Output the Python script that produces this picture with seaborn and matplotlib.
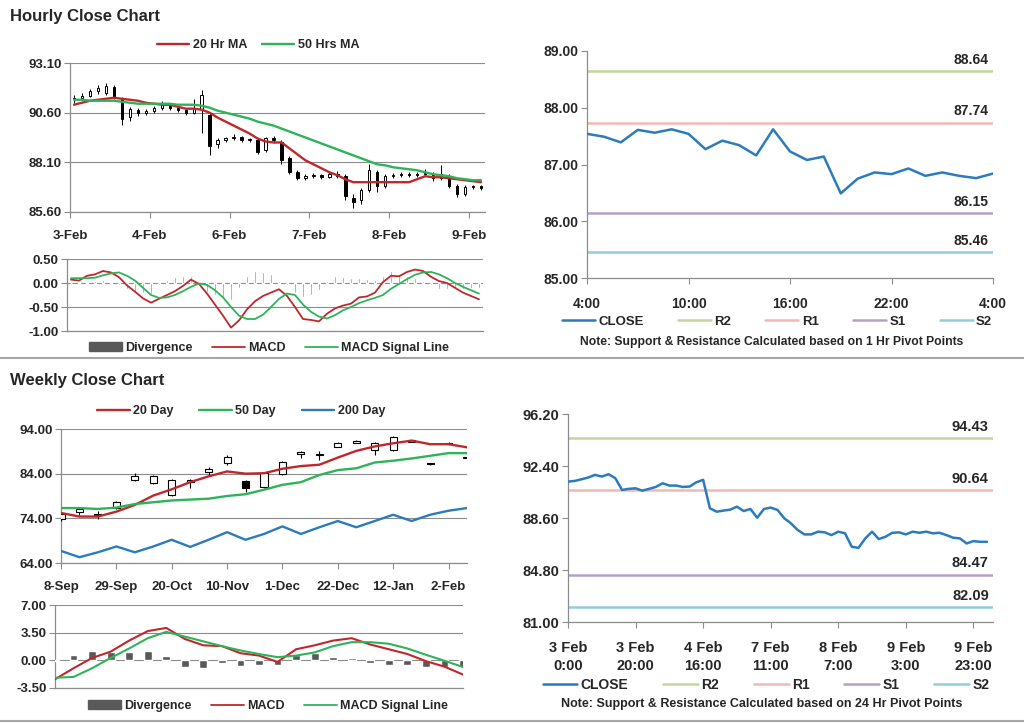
import matplotlib
matplotlib.use("Agg")
import matplotlib.pyplot as plt
from matplotlib.lines import Line2D
from matplotlib.patches import Patch
import numpy as np
import seaborn as sns

# ---- hourly candles (3-Feb .. 9-Feb), 10 bars per axis label step ----
hr_open = [91.30, 91.35, 91.45, 91.70, 91.60, 91.90, 91.30, 90.40, 90.75, 90.60,
           90.70, 90.85, 90.95, 90.85, 90.75, 90.60, 90.80, 90.50, 89.00, 89.20,
           89.30, 89.40, 89.20, 89.20, 88.70, 89.30, 89.10, 88.30, 87.60, 87.30,
           87.40, 87.45, 87.35, 87.50, 87.40, 86.30, 86.20, 86.70, 87.60, 86.90,
           87.40, 87.45, 87.50, 87.45, 87.50, 87.50, 87.30, 87.40, 86.90, 86.50,
           86.85, 86.90]
hr_close = [91.35, 91.45, 91.70, 91.85, 91.95, 91.40, 90.30, 90.80, 90.60, 90.70,
            90.85, 91.00, 90.85, 90.75, 90.60, 90.85, 91.50, 88.90, 89.20, 89.30,
            89.40, 89.20, 89.25, 88.60, 89.30, 89.20, 88.20, 87.60, 87.30, 87.40,
            87.45, 87.35, 87.50, 87.40, 86.40, 86.10, 86.70, 87.70, 86.90, 87.40,
            87.45, 87.50, 87.45, 87.50, 87.55, 87.30, 87.50, 86.90, 86.50, 86.85,
            86.90, 86.80]
hr_high = [91.50, 91.60, 91.80, 92.00, 92.10, 92.00, 91.40, 90.90, 90.85, 90.80,
           90.95, 91.20, 91.05, 90.90, 90.80, 91.30, 91.75, 90.60, 89.30, 89.40,
           89.55, 89.45, 89.35, 89.30, 89.40, 89.45, 89.20, 88.40, 87.70, 87.50,
           87.55, 87.50, 87.60, 87.65, 87.50, 86.50, 86.80, 88.00, 87.70, 87.50,
           87.55, 87.60, 87.60, 87.60, 87.75, 87.60, 87.95, 87.50, 87.00, 86.95,
           86.95, 86.95]
hr_low = [91.10, 91.25, 91.40, 91.55, 91.50, 91.30, 90.00, 90.20, 90.45, 90.50,
          90.60, 90.75, 90.75, 90.65, 90.50, 90.55, 89.60, 88.45, 88.80, 89.10,
          89.20, 89.10, 89.10, 88.50, 88.60, 89.05, 88.00, 87.50, 87.20, 87.20,
          87.30, 87.25, 87.30, 87.30, 86.20, 85.80, 86.00, 86.60, 86.60, 86.80,
          87.30, 87.35, 87.35, 87.35, 87.40, 87.15, 87.20, 86.80, 86.35, 86.40,
          86.75, 86.70]
hr_ma20 = [91.00, 91.10, 91.20, 91.25, 91.30, 91.35, 91.30, 91.25, 91.20, 91.10,
           91.05, 91.00, 91.00, 90.90, 90.80, 90.80, 90.75, 90.60, 90.35, 90.15,
           89.95, 89.75, 89.55, 89.30, 89.15, 89.10, 89.10, 88.80, 88.50, 88.20,
           88.00, 87.80, 87.60, 87.45, 87.25, 87.10, 87.10, 87.10, 87.10, 87.10,
           87.10, 87.10, 87.10, 87.25, 87.40, 87.35, 87.35, 87.30, 87.25, 87.20,
           87.15, 87.10]
hr_ma50 = [91.25, 91.25, 91.20, 91.20, 91.20, 91.20, 91.15, 91.10, 91.05, 91.05,
           91.05, 91.05, 91.05, 91.00, 91.00, 91.00, 90.95, 90.85, 90.70, 90.60,
           90.50, 90.40, 90.30, 90.15, 90.05, 89.95, 89.80, 89.65, 89.50, 89.35,
           89.20, 89.05, 88.90, 88.75, 88.60, 88.45, 88.30, 88.15, 88.00, 87.95,
           87.85, 87.80, 87.75, 87.70, 87.60, 87.50, 87.45, 87.40, 87.30, 87.25,
           87.20, 87.20]
hr_macd = [0.07, 0.05, 0.15, 0.18, 0.25, 0.22, 0.12, -0.05, -0.18, -0.32,
           -0.41, -0.33, -0.25, -0.17, -0.06, 0.07, -0.02, -0.22, -0.45, -0.68,
           -0.93, -0.78, -0.55, -0.38, -0.27, -0.20, -0.13, -0.27, -0.50, -0.75,
           -0.77, -0.80, -0.64, -0.53, -0.47, -0.43, -0.30, -0.28, -0.20, 0.02,
           0.15, 0.14, 0.23, 0.28, 0.25, 0.13, 0.04, 0.00, -0.10, -0.20,
           -0.27, -0.34]
hr_signal = [0.10, 0.10, 0.10, 0.11, 0.16, 0.20, 0.22, 0.15, 0.05, -0.10,
             -0.25, -0.31, -0.30, -0.25, -0.17, -0.08, -0.01, -0.04, -0.15, -0.30,
             -0.50, -0.68, -0.75, -0.75, -0.66, -0.50, -0.33, -0.22, -0.25, -0.45,
             -0.60, -0.70, -0.74, -0.67, -0.57, -0.50, -0.42, -0.36, -0.31, -0.25,
             -0.12, -0.02, 0.08, 0.17, 0.22, 0.23, 0.18, 0.10, 0.00, -0.08,
             -0.15, -0.22]
hr_div = [0.00, -0.03, 0.03, 0.05, 0.06, 0.03, -0.05, -0.12, -0.18, -0.20,
          -0.22, -0.05, 0.06, 0.12, 0.14, 0.15, -0.05, -0.18, -0.25, -0.30,
          -0.35, -0.10, 0.15, 0.25, 0.22, 0.18, 0.05, -0.05, -0.20, -0.30,
          -0.25, -0.15, 0.05, 0.15, 0.12, 0.10, 0.10, 0.08, 0.06, 0.15,
          0.25, 0.18, 0.15, 0.10, 0.05, -0.05, -0.12, -0.12, -0.10, -0.12,
          -0.10, -0.10]
hr_ticks = ["3-Feb", "4-Feb", "6-Feb", "7-Feb", "8-Feb", "9-Feb"]

# ---- 1 hour pivot chart ----
h1_close = [87.54, 87.49, 87.39, 87.61, 87.56, 87.62, 87.54, 87.27, 87.42, 87.34,
            87.16, 87.62, 87.23, 87.08, 87.14, 86.49, 86.75, 86.86, 86.83, 86.93,
            86.80, 86.86, 86.80, 86.76, 86.84]
h1_ticks = ["4:00", "10:00", "16:00", "22:00", "4:00"]
h1_pivots = {"R2": 88.64, "R1": 87.74, "S1": 86.15, "S2": 85.46}

# ---- weekly candles (8-Sep .. 9-Feb) ----
wk_open = [73.8, 75.5, 74.8, 76.3, 82.6, 81.9, 79.3, 82.2, 84.3, 86.5, 82.4, 81.0,
           83.9, 88.3, 88.2, 90.0, 90.9, 89.3, 89.3, 91.2, 86.1, 90.7, 87.5]
wk_close = [75.0, 76.0, 75.0, 77.6, 83.5, 83.4, 82.6, 82.5, 85.1, 87.8, 80.7, 84.2,
            86.7, 88.9, 88.4, 90.8, 91.3, 90.8, 92.1, 91.5, 86.3, 90.9, 87.7]
wk_high = [75.3, 76.4, 75.6, 77.9, 84.1, 83.6, 82.8, 82.7, 85.5, 88.2, 82.6, 84.4,
           86.9, 89.1, 89.1, 91.0, 91.5, 91.0, 92.4, 91.6, 86.4, 91.0, 87.8]
wk_low = [73.5, 74.8, 73.9, 76.0, 82.4, 81.7, 79.1, 80.7, 83.8, 86.0, 80.0, 80.8,
          83.7, 87.6, 87.1, 89.9, 90.8, 88.2, 89.1, 91.1, 86.0, 90.6, 87.4]
wk_ma20 = [75.2, 74.4, 74.4, 75.5, 77.0, 79.1, 80.5, 82.1, 83.4, 84.5, 84.0, 84.1,
           85.1, 85.7, 86.0, 87.6, 89.1, 90.1, 90.8, 91.4, 90.6, 90.6, 89.9]
wk_ma50 = [76.3, 76.3, 76.1, 76.4, 77.2, 77.6, 78.0, 78.2, 78.4, 79.0, 79.4, 80.4,
           81.5, 82.1, 83.7, 84.8, 85.2, 86.5, 86.9, 87.4, 88.0, 88.6, 88.6]
wk_ma200 = [66.7, 65.3, 66.4, 67.7, 66.4, 67.7, 69.2, 67.6, 69.2, 70.9, 69.2, 70.5,
            72.2, 70.5, 72.0, 73.4, 72.0, 73.4, 74.8, 73.4, 74.8, 75.7, 76.3]
wk_macd = [-2.4, -1.0, 0.3, 1.1, 2.5, 3.7, 4.1, 2.7, 1.9, 1.8, 0.9, 0.6,
           -0.2, 1.4, 1.9, 2.5, 2.8, 2.0, 1.4, 0.8, -0.1, -0.8, -1.8]
wk_signal = [-2.2, -2.1, -1.0, 0.3, 1.5, 2.8, 3.6, 3.0, 2.4, 1.8, 1.25, 0.8,
             0.4, 0.6, 1.0, 1.8, 2.3, 2.3, 2.1, 1.5, 0.7, -0.05, -0.85]
wk_div = [-0.1, 0.7, 1.2, 1.0, 1.1, 1.2, 0.5, -0.9, -1.0, -0.4, -0.7, -0.6,
          -0.6, 0.7, 0.9, 0.4, 0.3, -0.3, -0.6, -0.6, -0.9, -0.8, -0.9]
wk_ticks = ["8-Sep", "29-Sep", "20-Oct", "10-Nov", "1-Dec", "22-Dec", "12-Jan", "2-Feb"]

# ---- 24 hour pivot chart (2-hourly closes) ----
h24_close = [91.26, 91.31, 91.43, 91.56, 91.75, 91.63, 91.80, 91.51, 90.65, 90.73,
             90.77, 90.60, 90.73, 90.87, 91.14, 90.97, 90.97, 90.87, 90.90, 91.21,
             91.39, 89.31, 89.06, 89.14, 89.21, 89.43, 89.11, 89.26, 88.62, 89.26,
             89.36, 89.19, 88.58, 88.21, 87.72, 87.40, 87.40, 87.60, 87.55, 87.35,
             87.60, 87.48, 86.50, 86.42, 87.11, 87.60, 87.06, 87.23, 87.52, 87.55,
             87.40, 87.60, 87.52, 87.60, 87.48, 87.52, 87.35, 87.16, 87.11, 86.74,
             86.91, 86.86, 86.86]
h24_ticks = ["3 Feb\n0:00", "3 Feb\n20:00", "4 Feb\n16:00", "7 Feb\n11:00",
             "8 Feb\n7:00", "9 Feb\n3:00", "9 Feb\n23:00"]
h24_pivots = {"R2": 94.43, "R1": 90.64, "S1": 84.47, "S2": 82.09}

W, H = 1024, 724
GRAY = "#8c8c8c"
RED = "#c0272d"
GREEN = "#2fb35a"
BLUE = "#2b7bbd"
PIVOT_COLORS = {"R2": "#c3d69b", "R1": "#f2b8b6", "S1": "#b3a2c7", "S2": "#93cddd"}

sns.set_theme(style="white")
plt.rcParams["font.family"] = ["Liberation Sans", "DejaVu Sans"]
plt.rcParams["font.weight"] = "bold"


def px_axes(fig, x0, y0, x1, y1):
    return fig.add_axes([x0 / W, 1 - y1 / H, (x1 - x0) / W, (y1 - y0) / H])


def style_ax(ax, grid=True, size=9.5, xpad=9):
    sns.despine(ax=ax)
    for side in ("left", "bottom"):
        ax.spines[side].set_color(GRAY)
        ax.spines[side].set_linewidth(0.9)
    ax.tick_params(axis="both", direction="out", length=4, width=0.8, color=GRAY,
                   labelsize=size, left=True, bottom=True, pad=2)
    ax.tick_params(axis="x", pad=xpad)
    ax.grid(False)
    if grid:
        ax.yaxis.grid(True, color=GRAY, lw=0.8)
        ax.set_axisbelow(True)
    ax.set_xlabel("")
    ax.set_ylabel("")


def candles(ax, o, h, l, c, width, lw):
    x = np.arange(len(o))
    o, c = np.asarray(o), np.asarray(c)
    ax.vlines(x, l, h, color="black", lw=lw, zorder=3)
    face = ["white" if cc >= oo else "black" for oo, cc in zip(o, c)]
    ax.bar(x, np.abs(c - o), width=width, bottom=np.minimum(o, c), color=face,
           edgecolor="black", linewidth=lw, zorder=4)


def line(ax, vals, color, lw):
    sns.lineplot(x=np.arange(len(vals)), y=vals, ax=ax, color=color, lw=lw,
                 legend=False, zorder=5)


def legend(fig, handles, labels, x, y, size, colspace, hlen=2.6):
    fig.legend(handles, labels, loc="center", bbox_to_anchor=(x / W, 1 - y / H),
               ncol=len(handles), frameon=False, fontsize=size, handlelength=hlen,
               columnspacing=colspace, handletextpad=0.25, borderaxespad=0)


def pivot_chart(ax, close, pivots, size):
    for name, level in pivots.items():
        ax.axhline(level, color=PIVOT_COLORS[name], lw=1.8, zorder=2)
        ax.annotate(f"{level:.2f}", xy=(1, level), xycoords=("axes fraction", "data"),
                    xytext=(-3, 3), textcoords="offset points", ha="right",
                    va="bottom", fontsize=size, fontweight="bold")
    line(ax, close, BLUE, 1.8)


fig = plt.figure(figsize=(W / 100, H / 100), dpi=100)

fig.text(10 / W, 1 - 17 / H, "Hourly Close Chart", fontsize=12, fontweight="bold", va="center")
fig.text(10 / W, 1 - 380 / H, "Weekly Close Chart", fontsize=12, fontweight="bold", va="center")
for yy in (358, 721):
    fig.add_artist(Line2D([0, 1], [1 - yy / H] * 2, color="#a6a6a6", lw=1.5,
                          transform=fig.transFigure))

# hourly candle chart
ax = px_axes(fig, 70, 63, 485, 212)
candles(ax, hr_open, hr_high, hr_low, hr_close, 0.3, 0.7)
line(ax, hr_ma20, RED, 1.7)
line(ax, hr_ma50, GREEN, 1.7)
ax.set_xlim(-0.5, 51.5)
ax.set_ylim(85.6, 93.1)
ax.set_yticks([85.6, 88.1, 90.6, 93.1])
ax.set_yticklabels([f"{v:.2f}" for v in [85.6, 88.1, 90.6, 93.1]])
ax.set_xticks(np.arange(-0.5, 50, 10))
ax.set_xticklabels(hr_ticks)
style_ax(ax)
legend(fig, [Line2D([], [], color=RED, lw=1.7), Line2D([], [], color=GREEN, lw=1.7)],
       ["20 Hr MA", "50 Hrs MA"], 258, 45, 9, 1.2)

# hourly MACD
ax = px_axes(fig, 67, 259, 483, 331)
ax.bar(np.arange(len(hr_div)), hr_div, width=0.3, color="#8a8a8a", zorder=3)
line(ax, hr_macd, RED, 1.3)
line(ax, hr_signal, GREEN, 1.3)
ax.set_xlim(-0.5, 51.5)
ax.set_ylim(-1.0, 0.5)
ax.set_yticks([-1.0, -0.5, 0.0, 0.5])
ax.set_yticklabels([f"{v:.2f}" for v in [-1.0, -0.5, 0.0, 0.5]])
ax.set_xticks([])
style_ax(ax)
legend(fig, [Patch(color="#595959"), Line2D([], [], color=RED, lw=1.3),
             Line2D([], [], color=GREEN, lw=1.3)],
       ["Divergence", "MACD", "MACD Signal Line"], 269, 348, 9, 1.6)

# 1 hr pivot chart
ax = px_axes(fig, 587, 51, 993, 278)
pivot_chart(ax, h1_close, h1_pivots, 10)
ax.set_xlim(0, 24)
ax.set_ylim(85, 89)
ax.set_yticks([85, 86, 87, 88, 89])
ax.set_yticklabels([f"{v:.2f}" for v in [85, 86, 87, 88, 89]])
ax.set_xticks([0, 6, 12, 18, 24])
ax.set_xticklabels(h1_ticks)
style_ax(ax, grid=False, size=10, xpad=10)
pivot_handles = [Line2D([], [], color=BLUE, lw=1.8)] + \
    [Line2D([], [], color=PIVOT_COLORS[n], lw=1.8) for n in h1_pivots]
legend(fig, pivot_handles, ["CLOSE"] + list(h1_pivots), 777, 322, 9.5, 2.6, 2.5)
fig.text(772 / W, 1 - 342 / H, "Note: Support & Resistance Calculated based on 1 Hr Pivot Points",
         ha="center", va="center", fontsize=8.7, fontweight="bold")

# weekly candle chart
ax = px_axes(fig, 61, 429, 467, 563)
line(ax, wk_ma200, BLUE, 1.7)
candles(ax, wk_open, wk_high, wk_low, wk_close, 0.38, 0.8)
line(ax, wk_ma20, RED, 1.7)
line(ax, wk_ma50, GREEN, 1.7)
ax.set_xlim(0, 22)
ax.set_ylim(64, 94)
ax.set_yticks([64, 74, 84, 94])
ax.set_yticklabels([f"{v:.2f}" for v in [64, 74, 84, 94]])
ax.set_xticks(np.arange(0, 22, 3))
ax.set_xticklabels(wk_ticks)
style_ax(ax)
legend(fig, [Line2D([], [], color=RED, lw=1.7), Line2D([], [], color=GREEN, lw=1.7),
             Line2D([], [], color=BLUE, lw=1.7)],
       ["20 Day", "50 Day", "200 Day"], 241, 411, 9, 2.1)

# weekly MACD
ax = px_axes(fig, 55, 605, 463, 688)
ax.bar(np.arange(len(wk_div)), wk_div, width=0.42, color="#595959", zorder=3)
line(ax, wk_macd, RED, 1.5)
line(ax, wk_signal, GREEN, 1.5)
ax.set_xlim(0, 22)
ax.set_ylim(-3.5, 7.0)
ax.set_yticks([-3.5, 0.0, 3.5, 7.0])
ax.set_yticklabels([f"{v:.2f}" for v in [-3.5, 0.0, 3.5, 7.0]])
ax.set_xticks([])
style_ax(ax)
legend(fig, [Patch(color="#595959"), Line2D([], [], color=RED, lw=1.3),
             Line2D([], [], color=GREEN, lw=1.3)],
       ["Divergence", "MACD", "MACD Signal Line"], 268, 706, 9, 1.6)

# 24 hr pivot chart
ax = px_axes(fig, 568, 414, 993, 622)
pivot_chart(ax, h24_close, h24_pivots, 10.5)
ax.set_xlim(0, 62.9)
ax.set_ylim(81.0, 96.2)
levels = [81.0, 84.8, 88.6, 92.4, 96.2]
ax.set_yticks(levels)
ax.set_yticklabels([f"{v:.2f}" for v in levels])
ax.set_xticks(np.arange(0, 61, 10))
ax.set_xticklabels(h24_ticks, linespacing=1.3)
style_ax(ax, grid=False, size=10.5, xpad=10)
legend(fig, pivot_handles, ["CLOSE"] + list(h24_pivots), 766, 685, 10, 2.5, 2.5)
fig.text(762 / W, 1 - 704 / H, "Note: Support & Resistance Calculated based on 24 Hr Pivot Points",
         ha="center", va="center", fontsize=9, fontweight="bold")

fig.savefig("out.png", dpi=100)
